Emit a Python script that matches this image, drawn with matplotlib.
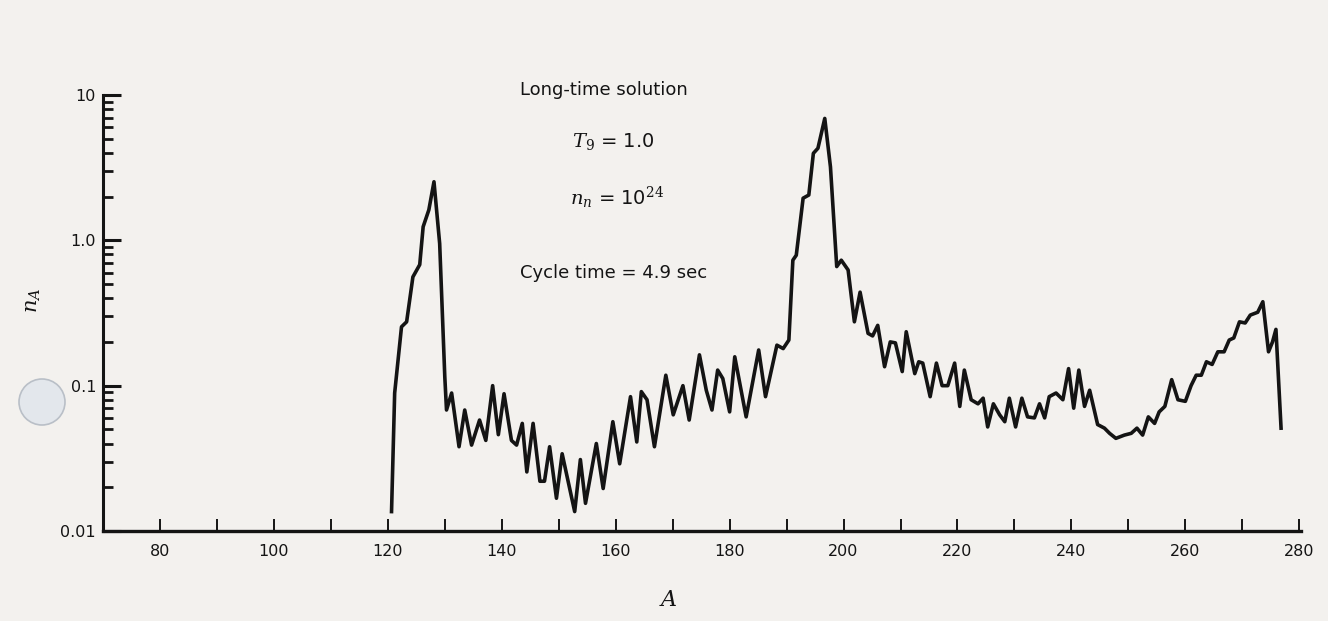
import matplotlib
matplotlib.use("Agg")
import matplotlib.pyplot as plt
from matplotlib.patches import Ellipse
from matplotlib.ticker import FixedLocator, NullFormatter

# ---- data (mass number A, abundance n_A) ----
A = [120.65, 121.2, 122.4, 123.3, 124.4, 125.6, 126.2, 127.2, 128.1, 129.1,
     130.0, 130.3, 131.2, 132.5, 133.5, 134.7, 136.1, 137.2, 138.4, 139.4,
     140.4, 141.7, 142.6, 143.6, 144.4, 145.5, 146.7, 147.5, 148.4, 149.6,
     150.6, 152.8, 153.8, 154.7, 156.6, 157.8, 159.5, 160.7, 162.6, 163.7,
     164.5, 165.5, 166.8, 168.8, 170.1, 171.8, 172.9, 174.7, 175.9, 176.9,
     177.9, 178.8, 180.0, 180.9, 182.9, 185.1, 186.3, 188.3, 189.4, 190.4,
     191.1, 191.7, 192.9, 193.9, 194.7, 195.5, 196.7, 197.7, 198.8, 199.6,
     200.8, 201.9, 202.9, 204.3, 205.1, 206.0, 207.2, 208.2, 209.1, 210.3,
     211.0, 212.5, 213.2, 213.9, 215.2, 216.3, 217.3, 218.3, 219.5, 220.4,
     221.2, 222.4, 223.6, 224.5, 225.3, 226.3, 227.4, 228.3, 229.1, 230.2,
     231.3, 232.3, 233.5, 234.4, 235.3, 236.1, 237.3, 238.5, 239.5, 240.4,
     241.3, 242.3, 243.2, 244.6, 245.8, 246.7, 247.8, 249.3, 250.5, 251.5,
     252.5, 253.5, 254.6, 255.4, 256.4, 257.6, 258.7, 260.0, 261.0, 261.9,
     262.8, 263.7, 264.7, 265.7, 266.8, 267.7, 268.5, 269.5, 270.5, 271.4,
     272.7, 273.6, 274.6, 275.3, 275.9, 276.8]
nA = [0.0136, 0.089, 0.254, 0.275, 0.56, 0.68, 1.24, 1.62, 2.53, 0.95,
      0.115, 0.068, 0.089, 0.038, 0.068, 0.039, 0.058, 0.042, 0.100, 0.046,
      0.088, 0.042, 0.039, 0.055, 0.0255, 0.055, 0.022, 0.022, 0.038, 0.0168,
      0.034, 0.0136, 0.031, 0.0155, 0.040, 0.0196, 0.0565, 0.029, 0.084, 0.041,
      0.091, 0.080, 0.038, 0.118, 0.063, 0.100, 0.058, 0.163, 0.093, 0.068,
      0.128, 0.112, 0.066, 0.158, 0.061, 0.176, 0.084, 0.19, 0.18, 0.206,
      0.73, 0.79, 1.95, 2.05, 3.97, 4.3, 6.9, 3.2, 0.66, 0.73,
      0.625, 0.275, 0.44, 0.229, 0.22, 0.26, 0.135, 0.20, 0.197, 0.125,
      0.235, 0.121, 0.146, 0.143, 0.084, 0.143, 0.100, 0.100, 0.143, 0.072,
      0.128, 0.080, 0.075, 0.082, 0.052, 0.075, 0.063, 0.0565, 0.082, 0.052,
      0.082, 0.061, 0.060, 0.075, 0.060, 0.084, 0.089, 0.080, 0.131, 0.070,
      0.128, 0.072, 0.093, 0.054, 0.051, 0.047, 0.0434, 0.0457, 0.047, 0.051,
      0.0457, 0.061, 0.055, 0.066, 0.072, 0.110, 0.080, 0.078, 0.100, 0.118,
      0.118, 0.146, 0.140, 0.171, 0.171, 0.206, 0.213, 0.275, 0.270, 0.306,
      0.320, 0.378, 0.171, 0.200, 0.244, 0.051]

x_ticks = list(range(80, 281, 10))
x_labels = [str(v) if v % 20 == 0 else "" for v in x_ticks]
y_major = [0.01, 0.1, 1.0, 10.0]
y_labels = ["0.01", "0.1", "1.0", "10"]

plt.rcParams["mathtext.fontset"] = "dejavuserif"

W, H = 1328, 621
paper = "#f3f1ee"
ink = "#141414"
fig = plt.figure(figsize=(W / 100, H / 100), dpi=100, facecolor=paper)

ax = fig.add_axes([103 / W, 1 - 531 / H, (1301 - 103) / W, (531 - 95) / H])
ax.set_facecolor("none")
ax.plot(A, nA, color=ink, lw=2.6, solid_joinstyle="round")

ax.set_yscale("log")
ax.set_ylim(0.01, 10)
ax.set_xlim(70, 280.3)

for s in ("top", "right"):
    ax.spines[s].set_visible(False)
ax.spines["left"].set_linewidth(2.2)
ax.spines["bottom"].set_linewidth(2.4)
ax.spines["left"].set_color(ink)
ax.spines["bottom"].set_color(ink)

ax.set_xticks(x_ticks)
ax.set_xticklabels(x_labels)
ax.tick_params(axis="x", direction="in", length=9, width=1.4, pad=9,
               labelsize=11.5, colors=ink)
ax.xaxis.set_minor_locator(FixedLocator([]))

ax.yaxis.set_major_locator(FixedLocator(y_major))
ax.set_yticklabels(y_labels)
minor = [m * 10.0 ** e for e in (-2, -1, 0) for m in range(2, 10)]
ax.yaxis.set_minor_locator(FixedLocator(minor))
ax.yaxis.set_minor_formatter(NullFormatter())
ax.tick_params(axis="y", which="major", direction="in", length=13, width=2.2,
               pad=5, labelsize=11.5, colors=ink)
ax.tick_params(axis="y", which="minor", direction="in", length=7, width=2.0,
               colors=ink)

def ftext(x, y, s, **kw):
    fig.text(x / W, 1 - y / H, s, color=ink, **kw)

ftext(33, 300, "$n_A$", rotation=90, ha="center", va="center", fontsize=15)
ftext(668, 600, "$A$", ha="center", va="center", fontsize=16)

ftext(520, 90, "Long-time solution", ha="left", va="center", fontsize=13)
ftext(572, 142, "$T_9$ = 1.0", ha="left", va="center", fontsize=14)
ftext(570, 198, "$n_n$ = 10$^{24}$", ha="left", va="center", fontsize=14)
ftext(520, 273, "Cycle time = 4.9 sec", ha="left", va="center", fontsize=13)

# scanner hole-punch mark on the left margin
fig.patches.append(Ellipse((42 / W, 1 - 402 / H), 46 / W, 46 / H,
                           transform=fig.transFigure, facecolor="#e3e7ec",
                           edgecolor="#b9bfc7", lw=1.2, zorder=0))

fig.savefig("out.png", dpi=100, facecolor=paper)
